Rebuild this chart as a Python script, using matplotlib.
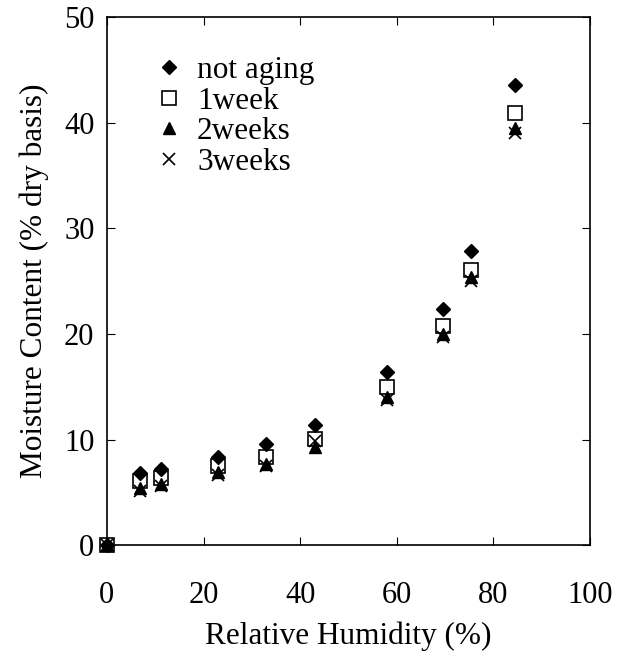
import matplotlib.pyplot as plt

plt.rcParams['font.family'] = ['Liberation Serif', 'DejaVu Serif']

rh = [0, 6.8, 11.3, 23, 33, 43, 58, 69.5, 75.3, 84.5]
not_aging = [0, 6.8, 7.2, 8.4, 9.6, 11.4, 16.4, 22.4, 27.9, 43.6]
week1 = [0, 6.1, 6.4, 7.5, 8.4, 10.1, 15.0, 20.8, 26.1, 40.9]
week2 = [0, 5.4, 5.8, 6.9, 7.7, 9.3, 14.0, 20.0, 25.4, 39.5]
week3 = [0, 5.1, 5.6, 6.7, 7.5, 9.9, 13.8, 19.7, 25.0, 39.0]

fig = plt.figure(figsize=(6.25, 6.57), dpi=100)
ax = fig.add_axes([0.171, 0.17, 0.773, 0.804])

ax.plot(rh, not_aging, 'D', color='black', markersize=7.5, linestyle='none',
        label='not aging', clip_on=False)
ax.plot(rh, week1, 's', markerfacecolor='none', markeredgecolor='black', markersize=10,
        markeredgewidth=1.2, linestyle='none', label='1week', clip_on=False)
ax.plot(rh, week2, '^', color='black', markersize=9, linestyle='none',
        label='2weeks', clip_on=False)
ax.plot(rh, week3, 'x', color='black', markersize=9, markeredgewidth=1.2,
        linestyle='none', label='3weeks', clip_on=False)

ax.set_xlim(0, 100)
ax.set_ylim(0, 50)
ax.set_xticks(range(0, 101, 20))
ax.set_yticks(range(0, 51, 10))
ax.tick_params(direction='in', top=True, right=True, length=6, labelsize=22)
ax.tick_params(axis='x', pad=26)
ax.tick_params(axis='y', pad=9)
for s in ax.spines.values():
    s.set_linewidth(1.2)

ax.set_xlabel('Relative Humidity (%)', fontsize=22.5, labelpad=8)
ax.set_ylabel('Moisture Content (% dry basis)', fontsize=22.5, labelpad=11)

ax.legend(loc='upper left', bbox_to_anchor=(0.07, 0.95), frameon=False, fontsize=22.5,
          handlelength=1.0, handletextpad=0.4, labelspacing=0.05, borderaxespad=0)

fig.savefig('out.png', dpi=100)
